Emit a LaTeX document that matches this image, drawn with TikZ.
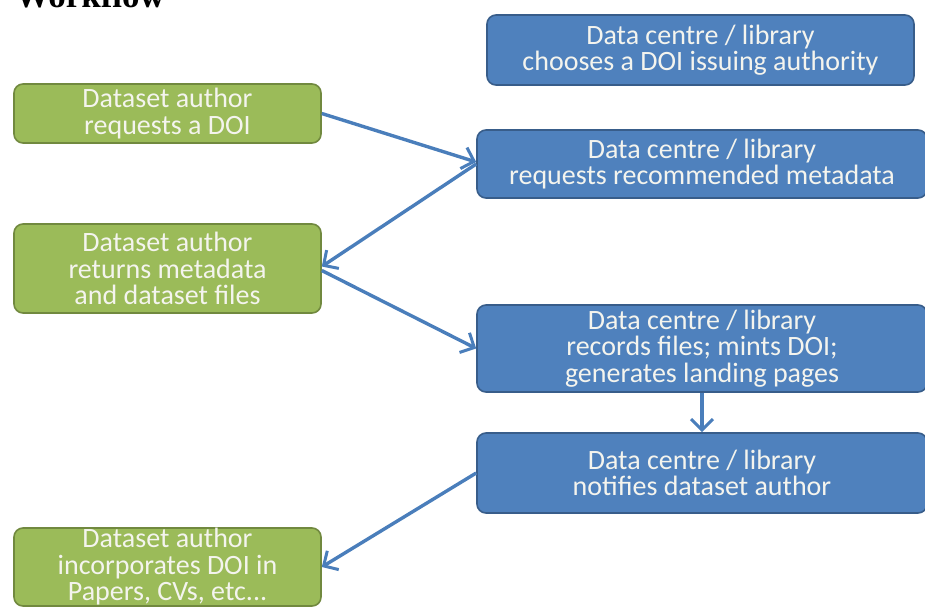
\documentclass[tikz,border=0pt]{standalone}
\usepackage{fontspec}
\setmainfont{Carlito}
\newfontfamily\titlefont[BoldFont={Liberation Serif Bold}]{Liberation Serif}
\usetikzlibrary{arrows.meta}

\definecolor{authfill}{HTML}{9BBB59}
\definecolor{authline}{HTML}{71893F}
\definecolor{libfill}{HTML}{4F81BD}
\definecolor{libline}{HTML}{385D8A}
\definecolor{flowline}{HTML}{4A7EBB}
\definecolor{boxtext}{HTML}{F4F4EE}

\tikzset{
  box/.style={rounded corners=9pt, line width=1.6pt, inner sep=0pt, align=center,
    text=boxtext, font=\fontsize{28}{26.5}\selectfont},
  author/.style={box, fill=authfill, draw=authline, minimum width=307pt},
  library/.style={box, fill=libfill, draw=libline, minimum width=450pt},
  flow/.style={draw=flowline, line width=3.4pt, -{Straight Barb[length=11pt,width=22pt,line width=3pt]}}
}

\begin{document}
\begin{tikzpicture}[x=1pt,y=-1pt]
 \useasboundingbox (0,0) rectangle (925,608);

 % title, cut at the top of the page
 \node[anchor=base west, inner sep=0pt, font=\titlefont\bfseries\fontsize{35}{35}\selectfont] (title) at (15,7) {Workflow};

 % the dataset author
 \node[author, minimum height=59pt] (request) at (167.5,113.5) {Dataset author\\requests a DOI};
 \node[author, minimum height=89pt] (returns) at (167.5,268.5) {Dataset author\\returns metadata\\and dataset files};
 \node[author, minimum height=78pt] (cites) at (167.5,567) {Dataset author\\incorporates DOI in\\Papers, CVs, etc...};

 % the data centre
 \node[library, minimum width=427pt, minimum height=70pt] (authority) at (700.5,50) {Data centre / library\\chooses a DOI issuing authority};
 \node[library, minimum height=68pt] (metadata) at (702,164) {Data centre / library\\requests recommended metadata};
 \node[library, minimum height=87pt] (mints) at (702,348.5) {Data centre / library\\records files; mints DOI;\\generates landing pages};
 \node[library, minimum height=80pt] (notifies) at (702,473) {Data centre / library\\notifies dataset author};

 \draw[flow] (request.east) -- ([yshift=2pt]metadata.west);
 \draw[flow] (metadata.west) -- ([yshift=2pt]returns.east);
 \draw[flow] ([yshift=-2pt]returns.east) -- (mints.west);
 \draw[flow] (mints.south) -- (notifies.north);
 \draw[flow] (notifies.west) -- (cites.east);
\end{tikzpicture}
\end{document}
